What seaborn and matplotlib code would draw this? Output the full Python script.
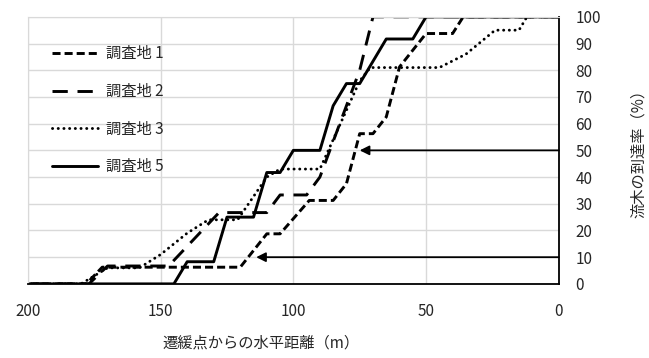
import numpy as np
import pandas as pd
import matplotlib
matplotlib.use('Agg')
import matplotlib.pyplot as plt
import seaborn as sns

# distance from the break point (m) and arrival ratio (%) per site
site1_x = [200, 178, 172, 120, 110, 105, 94, 85, 80, 75, 70, 65, 60, 50, 40, 36, 0]
site1_y = [0, 0, 6.25, 6.25, 18.75, 18.75, 31.25, 31.25, 37.5, 56.25, 56.25, 62.5, 81.25, 93.75, 93.75, 100, 100]

site2_x = [200, 177, 170, 147, 128, 110, 105, 95, 90, 80, 75, 70, 0]
site2_y = [0, 0, 6.7, 6.7, 26.7, 26.7, 33.3, 33.3, 40, 66.7, 80, 100, 100]

site3_x = [200, 180, 170, 158, 150, 140, 132, 121, 110, 105, 90, 75, 71, 45, 35, 24, 15, 12, 0]
site3_y = [0, 0, 6, 6, 11, 19, 24, 24, 40, 43, 43, 76, 81, 81, 86, 95, 95, 100, 100]

site5_x = [200, 145, 140, 130, 125, 115, 110, 105, 100, 90, 85, 80, 75, 65, 55, 50, 0]
site5_y = [0, 0, 8.3, 8.3, 25, 25, 41.7, 41.7, 50, 50, 66.7, 75, 75, 91.7, 91.7, 100, 100]

labels = ['調査地 1', '調査地 2', '調査地 3', '調査地 5']
arrow_targets = [(75, 50), (114, 10)]

sns.set_style('white')
plt.rcParams['font.family'] = ['Noto Sans CJK JP', 'DejaVu Sans']
plt.rcParams['lines.scale_dashes'] = False

fig = plt.figure(figsize=(6.49, 3.58), dpi=100)
ax = fig.add_axes([0.043, 0.207, 0.818, 0.746])

styles = [(0, (5.8, 2.9)), (0, (11, 7)), (0, (0.1, 4.0)), '-']
series = [(site1_x, site1_y), (site2_x, site2_y), (site3_x, site3_y), (site5_x, site5_y)]
for (xs, ys), lab, ls in zip(series, labels, styles):
    df = pd.DataFrame({'x': xs, 'y': ys})
    sns.lineplot(data=df, x='x', y='y', ax=ax, color='black', linewidth=2.1,
                 linestyle=ls, label=lab, errorbar=None,
                 dash_capstyle='round' if lab == '調査地 3' else 'butt')

for tx, ty in arrow_targets:
    ax.annotate('', xy=(tx, ty), xytext=(0, ty),
                arrowprops=dict(arrowstyle='-|>', color='black', lw=1.3,
                                mutation_scale=14, shrinkA=0, shrinkB=0))

ax.set_xlim(200, 0)
ax.set_ylim(0, 100)
ax.set_xticks([200, 150, 100, 50, 0])
ax.set_yticks(np.arange(0, 101, 10))
ax.yaxis.tick_right()
ax.yaxis.set_label_position('right')
ax.tick_params(axis='both', length=0, labelsize=11)
ax.tick_params(axis='y', pad=12)
ax.tick_params(axis='x', pad=14)
ax.grid(True, color='#d9d9d9', linewidth=1)
ax.set_axisbelow(True)

for side in ['left', 'top']:
    ax.spines[side].set_color('#d9d9d9')
for side in ['right', 'bottom']:
    ax.spines[side].set_color('black')
    ax.spines[side].set_linewidth(1.3)

ax.set_xlabel('遷緩点からの水平距離（m）', fontsize=11, labelpad=14)
ax.xaxis.set_label_coords(0.44, -0.19)
ax.set_ylabel('流木の到達率（%）', fontsize=11, labelpad=14)
ax.yaxis.set_label_coords(1.135, 0.5)

leg = ax.legend(loc='upper left', frameon=False, fontsize=11, handlelength=3.0,
                labelspacing=1.35, bbox_to_anchor=(0.02, 0.945), handletextpad=0.5)

fig.savefig('out.png', dpi=100)
